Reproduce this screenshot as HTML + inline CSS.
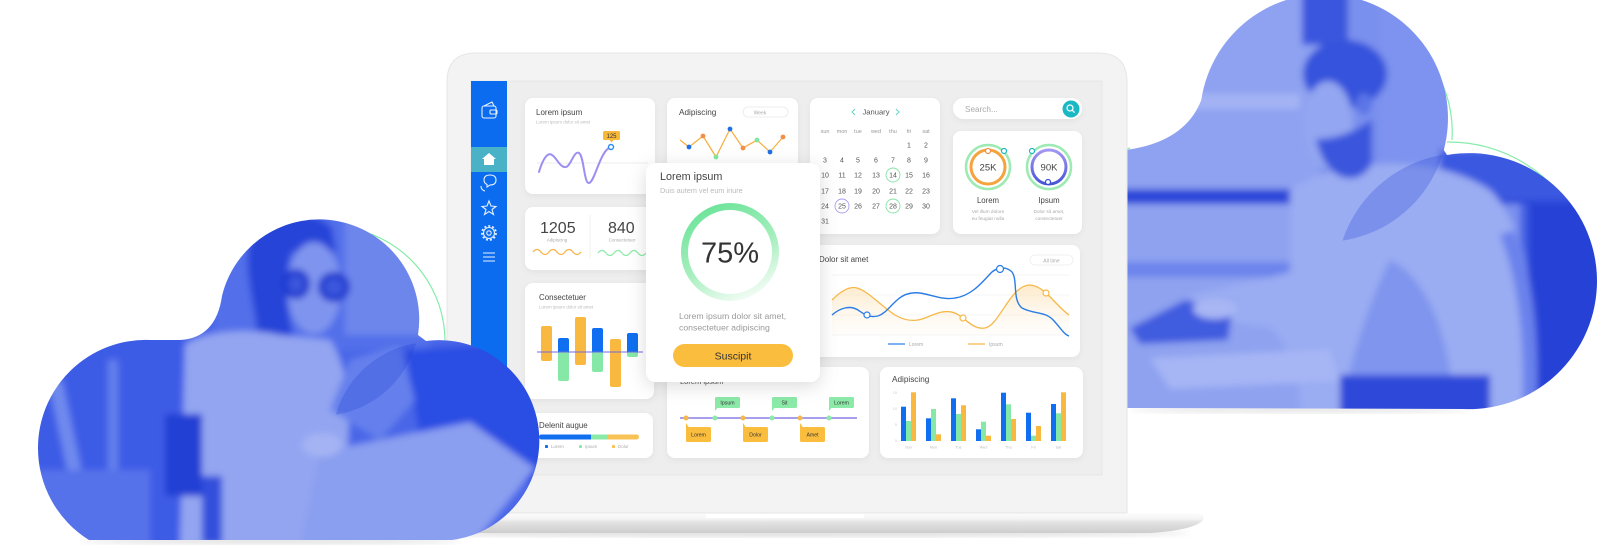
<!DOCTYPE html>
<html><head><meta charset="utf-8"><style>
html,body{margin:0;padding:0;background:#fff;width:1622px;height:548px;overflow:hidden}
svg{display:block}
text{font-family:"Liberation Sans",sans-serif}
</style></head><body>
<svg width="1622" height="548" viewBox="0 0 1622 548" xmlns="http://www.w3.org/2000/svg">
<defs>
<filter id="sh" x="-20%" y="-20%" width="140%" height="150%"><feDropShadow dx="0" dy="2" stdDeviation="3" flood-color="#000" flood-opacity="0.05"/></filter>
<filter id="psh" x="-30%" y="-20%" width="160%" height="150%"><feDropShadow dx="0" dy="4" stdDeviation="9" flood-color="#000" flood-opacity="0.14"/></filter>
<filter id="bl" x="-10%" y="-10%" width="120%" height="120%"><feGaussianBlur stdDeviation="3.5"/></filter>
<filter id="bl2"><feGaussianBlur stdDeviation="3"/></filter>
<clipPath id="lc"><path d="M38 448 A108 108 0 0 1 150 340 L180 340 Q216 338 222 296 A100 100 0 0 1 418 335 L426 341 A100 100 0 0 1 452 540 L89 540 A108 108 0 0 1 38 448 Z"/></clipPath>
<clipPath id="lc1"><circle cx="320" cy="316" r="100"/></clipPath>
<clipPath id="rc"><path d="M1126 408 L1126 150 Q1185 142 1201.3 100 A124 124 0 1 1 1443.8 150 L1447 155 A128 128 0 1 1 1464 409 L1126 408 Z"/></clipPath>
<clipPath id="rc1"><circle cx="1324" cy="118" r="124"/></clipPath>
<linearGradient id="base" x1="0" y1="0" x2="0" y2="1">
<stop offset="0" stop-color="#fdfdfd"/><stop offset="0.3" stop-color="#f4f4f4"/><stop offset="0.45" stop-color="#e3e3e3"/><stop offset="1" stop-color="#cdcdcd"/></linearGradient>
<linearGradient id="ring" x1="0.3" y1="0" x2="0.75" y2="1">
<stop offset="0" stop-color="#6fe49b"/><stop offset="0.55" stop-color="#a8efbf"/><stop offset="1" stop-color="#f4fcf6"/></linearGradient>
<linearGradient id="ofill" x1="0" y1="0" x2="0" y2="1">
<stop offset="0" stop-color="#fcd9a0" stop-opacity="0.55"/><stop offset="1" stop-color="#fdf0dc" stop-opacity="0.1"/></linearGradient>
<linearGradient id="pur" x1="0" y1="0" x2="0" y2="1">
<stop offset="0" stop-color="#a497f2"/><stop offset="1" stop-color="#4656d6"/></linearGradient>
</defs>

<!-- RIGHT CLOUD green arcs -->
<path d="M1405 35 A124 124 0 0 1 1452 140" fill="none" stroke="#86ecaa" stroke-width="1.2"/>
<path d="M1447 142 A145 145 0 0 1 1580 225" fill="none" stroke="#86ecaa" stroke-width="1.2"/>
<path d="M1118 156 Q1123 150 1130 148" fill="none" stroke="#86ecaa" stroke-width="1.2"/>
<ellipse cx="1300" cy="410" rx="170" ry="3" fill="#000" opacity="0.1" filter="url(#bl2)"/>
<!-- RIGHT CLOUD -->
<g clip-path="url(#rc)">
 <g filter="url(#bl)">
  <rect x="1100" y="-10" width="520" height="430" fill="#7a90ee"/>
  <rect x="1110" y="-10" width="210" height="200" fill="#8ea2f1"/>
  <rect x="1190" y="94" width="110" height="15" fill="#a4b3f4"/>
  <rect x="1302" y="-10" width="46" height="55" fill="#3a57de"/>
  <rect x="1380" y="-10" width="100" height="200" fill="#7d93ef"/>
  <rect x="1520" y="-10" width="100" height="430" fill="#4462e4"/>
  <rect x="1528" y="200" width="92" height="220" fill="#2543d6"/>
  <rect x="1110" y="189" width="510" height="15" fill="#2b47d9"/>
  <rect x="1440" y="150" width="180" height="50" fill="#3a58e0"/>
  <rect x="1110" y="204" width="240" height="210" fill="#8ea2f0"/>
  <rect x="1110" y="262" width="240" height="15" fill="#6c84ec"/>
  <path d="M1290 190 C1330 160 1430 150 1490 190 C1525 225 1540 300 1535 415 L1300 415 C1300 375 1290 345 1270 328 L1200 318 L1190 295 C1230 285 1260 280 1290 272 Z" fill="#9aacf2"/>
  <path d="M1390 260 C1430 280 1450 340 1455 415 L1340 415 C1350 360 1370 300 1390 260 Z" fill="#7f95ee"/>
  <path d="M1500 235 C1518 280 1526 340 1522 415 L1536 415 C1540 330 1532 275 1514 230 Z" fill="#6a82ec"/>
  <ellipse cx="1345" cy="74" rx="42" ry="34" fill="#3552dc"/>
  <ellipse cx="1328" cy="125" rx="25" ry="44" fill="#93a6f1"/>
  <ellipse cx="1364" cy="104" rx="8" ry="11" fill="#5a74e6"/>
  <path d="M1316 139 C1326 184 1360 188 1372 163 L1372 119 C1358 130 1338 139 1316 139 Z" fill="#3a56dd"/>
  <polygon points="1130,328 1185,300 1232,311 1228,340 1140,344" fill="#3f5bdf"/>
  <ellipse cx="1215" cy="309" rx="22" ry="10" fill="#a8b6f4"/>
  <polygon points="1150,358 1330,349 1340,381 1170,389" fill="#a6b5f4"/>
  <rect x="1340" y="375" width="150" height="42" fill="#2e4ad9"/>
 </g>
 <circle cx="1464" cy="281" r="128" fill="#1c3ad2" opacity="0.25" clip-path="url(#rc1)"/>
</g>

<!-- LAPTOP BASE -->
<ellipse cx="790" cy="533" rx="400" ry="4" fill="#000" opacity="0.12" filter="url(#bl2)"/>
<path d="M380 513 L1195 513 Q1206 514 1203 520 Q1195 530 1150 533 L430 533 Q385 530 378 520 Q376 514 380 513 Z" fill="url(#base)"/>
<rect x="706" y="513" width="158" height="5" fill="#ffffff"/>
<!-- LAPTOP FRAME -->
<path d="M447 513 L447 82 Q447 53 476 53 L1098 53 Q1127 53 1127 82 L1127 513 Z" fill="#f3f3f3" stroke="#e6e6e6" stroke-width="1"/>
<rect x="471" y="81" width="631" height="394" fill="#eeeeee" stroke="#e4e4e4" stroke-width="0.8"/>
<!-- SIDEBAR -->
<rect x="471" y="81" width="36" height="394" fill="#0c6cf0"/>
<rect x="471" y="147" width="36" height="25" fill="#4ab2c6"/>
<g fill="none" stroke="#fff" stroke-width="1.1" opacity="0.9">
 <rect x="482" y="106" width="14" height="12" rx="2"/>
 <rect x="490" y="110" width="7" height="4" rx="1"/>
 <path d="M484 106 L492 102 L494 106"/>
 <path d="M484 180 q0-5 6-5 q6 0 6 5 q0 5-6 5 l-3 2 l0-2.5 q-3-1.5-3-4.5z"/>
 <path d="M481 186 q0 4 4 5"/>
 <polygon points="489,201 491,206 496,206.5 492,209.5 493.5,214.5 489,211.5 484.5,214.5 486,209.5 482,206.5 487,206"/>
 <circle cx="489" cy="233" r="5.5"/>
 <circle cx="489" cy="233" r="2.2"/>
 <circle cx="489" cy="233" r="7" stroke-dasharray="2 2" stroke-width="1.8"/>
 <path d="M483 253 h12 M483 257 h12 M483 261 h12"/>
</g>
<polygon points="482,159 489,153 496,159 494,159 494,165 484,165 484,159" fill="#fff"/>

<!-- CARDS -->
<g fill="#fff" filter="url(#sh)">
 <rect x="525" y="98" width="130" height="96" rx="8"/>
 <rect x="667" y="98" width="131" height="96" rx="8"/>
 <rect x="810" y="98" width="130" height="136" rx="8"/>
 <rect x="953" y="98" width="129" height="21" rx="10.5"/>
 <rect x="953" y="131" width="129" height="103" rx="8"/>
 <rect x="525" y="207" width="130" height="63" rx="8"/>
 <rect x="525" y="283" width="129" height="116" rx="8"/>
 <rect x="525" y="413" width="128" height="45" rx="8"/>
 <rect x="810" y="245" width="270" height="112" rx="8"/>
 <rect x="667" y="367" width="202" height="91" rx="8"/>
 <rect x="880" y="367" width="203" height="91" rx="8"/>
</g>

<!-- Card 1 -->
<text x="536" y="115" font-size="8" fill="#444">Lorem ipsum</text>
<text x="536" y="123.5" font-size="4.5" fill="#bbb">Lorem ipsum dolor sit amet</text>
<line x1="537" y1="163" x2="648" y2="163" stroke="#e6e6e6" stroke-width="0.8"/>
<path d="M539 172 C543 158 548 152 552 155 C557 158 560 168 566 167 C571 166 574 150 579 153 C584 156 584 184 589 183 C595 182 600 150 611 147" fill="none" stroke="#9c8ff2" stroke-width="2" stroke-linecap="round"/>
<circle cx="611" cy="147" r="2.5" fill="#fff" stroke="#2d8cf0" stroke-width="1.4"/>
<rect x="603" y="131" width="17" height="9" rx="1.5" fill="#f8b93a"/>
<polygon points="609.5,140 613.5,140 611.5,142.5" fill="#f8b93a"/>
<text x="611.5" y="138" font-size="6" fill="#333" text-anchor="middle">125</text>

<!-- Card 2 -->
<text x="679" y="115" font-size="8.2" fill="#444">Adipiscing</text>
<rect x="743" y="107" width="45" height="10" rx="5" fill="#fff" stroke="#e8e8e8" stroke-width="0.8"/>
<text x="760" y="114.3" font-size="5" fill="#aaa" text-anchor="middle">Week</text>
<polyline points="680,140 689,147 703,136 716,157 730,129 743,148 757,140 770,152 783,137" fill="none" stroke="#f6b247" stroke-width="1.3"/>
<g>
 <circle cx="689" cy="147" r="2.4" fill="#1f6fe8"/><circle cx="730" cy="129" r="2.4" fill="#1f6fe8"/><circle cx="770" cy="152" r="2.4" fill="#1f6fe8"/>
 <circle cx="703" cy="136" r="2.4" fill="#f08e4a"/><circle cx="743" cy="148" r="2.4" fill="#f08e4a"/><circle cx="783" cy="137" r="2.4" fill="#f08e4a"/>
 <circle cx="716" cy="157" r="2.4" fill="#7ee8a0"/><circle cx="757" cy="140" r="2.4" fill="#7ee8a0"/>
</g>

<!-- Calendar -->
<text x="876" y="114.5" font-size="7.6" fill="#555" text-anchor="middle">January</text>
<polyline points="855,109 852,112 855,115" fill="none" stroke="#5fd0c5" stroke-width="0.9"/>
<polyline points="896,109 899,112 896,115" fill="none" stroke="#5fd0c5" stroke-width="0.9"/>
<g font-size="5.5" fill="#999" text-anchor="middle">
 <text x="825" y="133">sun</text><text x="842" y="133">mon</text><text x="858" y="133">tue</text><text x="876" y="133">wed</text><text x="893" y="133">thu</text><text x="909" y="133">fri</text><text x="926" y="133">sat</text>
</g>
<circle cx="893" cy="175" r="7" fill="none" stroke="#86e3a4" stroke-width="0.9"/>
<circle cx="842" cy="206" r="7" fill="none" stroke="#a99ff0" stroke-width="0.9"/>
<circle cx="893" cy="206" r="7" fill="none" stroke="#86e3a4" stroke-width="0.9"/>
<g font-size="7" fill="#555" text-anchor="middle">
 <text x="909" y="147.5">1</text><text x="926" y="147.5">2</text>
 <text x="825" y="162.5">3</text><text x="842" y="162.5">4</text><text x="858" y="162.5">5</text><text x="876" y="162.5">6</text><text x="893" y="162.5">7</text><text x="909" y="162.5">8</text><text x="926" y="162.5">9</text>
 <text x="825" y="177.5">10</text><text x="842" y="177.5">11</text><text x="858" y="177.5">12</text><text x="876" y="177.5">13</text><text x="893" y="177.5">14</text><text x="909" y="177.5">15</text><text x="926" y="177.5">16</text>
 <text x="825" y="193.5">17</text><text x="842" y="193.5">18</text><text x="858" y="193.5">19</text><text x="876" y="193.5">20</text><text x="893" y="193.5">21</text><text x="909" y="193.5">22</text><text x="926" y="193.5">23</text>
 <text x="825" y="208.5">24</text><text x="842" y="208.5">25</text><text x="858" y="208.5">26</text><text x="876" y="208.5">27</text><text x="893" y="208.5">28</text><text x="909" y="208.5">29</text><text x="926" y="208.5">30</text>
 <text x="825" y="223.5">31</text>
</g>

<!-- Search -->
<text x="965" y="112" font-size="8.2" fill="#aaa">Search...</text>
<circle cx="1071" cy="109" r="8.5" fill="#1ab8c4"/>
<circle cx="1070" cy="108" r="3" fill="none" stroke="#fff" stroke-width="1.2"/>
<line x1="1072.2" y1="110.2" x2="1074.6" y2="112.6" stroke="#fff" stroke-width="1.2"/>

<!-- Rings -->
<circle cx="988" cy="167" r="22" fill="none" stroke="#9deab3" stroke-width="2.5"/>
<circle cx="988" cy="167" r="17" fill="none" stroke="#f5a33c" stroke-width="3"/>
<circle cx="988" cy="151" r="2.5" fill="#fff" stroke="#f08e4a" stroke-width="1.2"/>
<circle cx="1004" cy="151" r="2.5" fill="#fff" stroke="#1fb5c5" stroke-width="1.2"/>
<text x="988" y="170.5" font-size="9.5" fill="#444" text-anchor="middle">25K</text>
<circle cx="1049" cy="167" r="22" fill="none" stroke="#9deab3" stroke-width="2.5"/>
<circle cx="1049" cy="167" r="17" fill="none" stroke="url(#pur)" stroke-width="3"/>
<circle cx="1032" cy="151" r="2.5" fill="#fff" stroke="#1fb5c5" stroke-width="1.2"/>
<circle cx="1048" cy="182" r="2.5" fill="#fff" stroke="#3c4fd6" stroke-width="1.2"/>
<text x="1049" y="170.5" font-size="9.5" fill="#444" text-anchor="middle">90K</text>
<text x="988" y="203" font-size="7.8" fill="#444" text-anchor="middle">Lorem</text>
<text x="1049" y="203" font-size="7.8" fill="#444" text-anchor="middle">Ipsum</text>
<g font-size="4.8" fill="#aaa" text-anchor="middle">
 <text x="988" y="213">Vel illum dolore</text><text x="988" y="220">eu feugiat nulla</text>
 <text x="1049" y="213">Dolor sit amet,</text><text x="1049" y="220">consectetuer</text>
</g>

<!-- 1205 card -->
<text x="540" y="233" font-size="16" fill="#444">1205</text>
<text x="557" y="241.5" font-size="4.5" fill="#aaa" text-anchor="middle">Adipiscing</text>
<text x="608" y="233" font-size="16" fill="#444">840</text>
<text x="622" y="241.5" font-size="4.5" fill="#aaa" text-anchor="middle">Consectetuer</text>
<line x1="590" y1="215" x2="590" y2="258" stroke="#eee" stroke-width="0.8"/>
<path d="M533 252 q4 -5 8 0 t8 0 t8 0 t8 0 t8 0 t8 0" fill="none" stroke="#f7b547" stroke-width="1.3"/>
<path d="M598 253 q4 -5 8 0 t8 0 t8 0 t8 0 t8 0 t8 0" fill="none" stroke="#8eeaa9" stroke-width="1.3"/>

<!-- Consectetuer -->
<text x="539" y="300" font-size="7.9" fill="#444">Consectetuer</text>
<text x="539" y="308.5" font-size="4.5" fill="#bbb">Lorem ipsum dolor sit amet</text>
<g>
 <rect x="541" y="326" width="11" height="35" rx="2" fill="#f9b840"/>
 <rect x="558" y="338" width="11" height="16" rx="2" fill="#0f6ff0"/>
 <rect x="558" y="352" width="11" height="29" rx="2" fill="#86e8a6"/>
 <rect x="575" y="317" width="11" height="48" rx="2" fill="#f9b840"/>
 <rect x="592" y="328" width="11" height="26" rx="2" fill="#0f6ff0"/>
 <rect x="592" y="352" width="11" height="20" rx="2" fill="#86e8a6"/>
 <rect x="610" y="339" width="11" height="48" rx="2" fill="#f9b840"/>
 <rect x="627" y="333" width="11" height="21" rx="2" fill="#0f6ff0"/>
 <rect x="627" y="352" width="11" height="5" rx="2" fill="#86e8a6"/>
</g>
<line x1="537" y1="352" x2="643" y2="352" stroke="#6f6ae0" stroke-width="1.1"/>

<!-- Delenit -->
<text x="539" y="428" font-size="7.9" fill="#444">Delenit augue</text>
<rect x="539" y="434.5" width="100" height="5" rx="2.5" fill="#f9c255"/>
<path d="M541.5 434.5 H608 V439.5 H541.5 A2.5 2.5 0 0 1 541.5 434.5 Z" fill="#8ceaa8"/>
<path d="M541.5 434.5 H591 V439.5 H541.5 A2.5 2.5 0 0 1 541.5 434.5 Z" fill="#1170f0"/>
<rect x="545" y="445" width="3" height="3" rx="0.8" fill="#1170f0"/><text x="551" y="448" font-size="4.5" fill="#aaa">Lorem</text>
<rect x="579" y="445" width="3" height="3" rx="0.8" fill="#8ceaa8"/><text x="585" y="448" font-size="4.5" fill="#aaa">Ipsum</text>
<rect x="612" y="445" width="3" height="3" rx="0.8" fill="#f9c255"/><text x="618" y="448" font-size="4.5" fill="#aaa">Dolor</text>

<!-- Dolor sit amet -->
<text x="819" y="262" font-size="8" fill="#444">Dolor sit amet</text>
<rect x="1030" y="255" width="43" height="10" rx="5" fill="#fff" stroke="#eee" stroke-width="0.8"/>
<text x="1051.5" y="262.3" font-size="5" fill="#aaa" text-anchor="middle">All time</text>
<g stroke="#f0f0f0" stroke-width="0.7">
 <line x1="832" y1="275" x2="1070" y2="275"/><line x1="832" y1="295" x2="1070" y2="295"/><line x1="832" y1="315" x2="1070" y2="315"/><line x1="832" y1="335" x2="1070" y2="335"/>
</g>
<path d="M832 300 C842 290 850 286 857 288 C868 291 880 305 895 315 C905 321 915 322 925 318 C935 314 945 309 955 313 C965 317 972 330 985 328 C1000 325 1010 285 1030 285 C1045 286 1055 305 1069 315 L1069 335 L832 335 Z" fill="url(#ofill)"/>
<path d="M832 300 C842 290 850 286 857 288 C868 291 880 305 895 315 C905 321 915 322 925 318 C935 314 945 309 955 313 C965 317 972 330 985 328 C1000 325 1010 285 1030 285 C1045 286 1055 305 1069 315" fill="none" stroke="#f6b849" stroke-width="1.3"/>
<path d="M832 315 C840 308 850 305 858 310 C864 314 868 318 878 316 C890 312 895 295 912 293 C925 291 940 301 955 298 C970 296 980 285 990 274 C995 268 1005 265 1012 272 C1018 280 1012 300 1022 308 C1035 315 1045 310 1055 322 C1062 330 1065 335 1069 336" fill="none" stroke="#2a7de6" stroke-width="1.4"/>
<circle cx="867" cy="315" r="3" fill="#fff" stroke="#2a7de6" stroke-width="1.2"/>
<circle cx="1000" cy="269" r="3.5" fill="#fff" stroke="#2a7de6" stroke-width="1.2"/>
<circle cx="963" cy="318" r="3" fill="#fff" stroke="#f6b849" stroke-width="1.2"/>
<circle cx="1046" cy="293" r="3" fill="#fff" stroke="#f6b849" stroke-width="1.2"/>
<line x1="888" y1="344" x2="905" y2="344" stroke="#2f80e6" stroke-width="1.3"/>
<text x="909" y="346" font-size="5" fill="#aaa">Lorem</text>
<line x1="968" y1="344" x2="985" y2="344" stroke="#f6b849" stroke-width="1.3"/>
<text x="989" y="346" font-size="5" fill="#aaa">Ipsum</text>

<!-- Timeline -->
<text x="680" y="384" font-size="7.5" fill="#555">Lorem ipsum</text>
<line x1="680" y1="418" x2="857" y2="418" stroke="#8a7fe8" stroke-width="1.4"/>
<g fill="#f7b84a"><circle cx="686" cy="418" r="2.5"/><circle cx="743" cy="418" r="2.5"/><circle cx="800" cy="418" r="2.5"/></g>
<g fill="#8ceaa8"><circle cx="715" cy="418" r="2.5"/><circle cx="772" cy="418" r="2.5"/><circle cx="829" cy="418" r="2.5"/></g>
<g fill="#8ceaa8">
 <rect x="715" y="397" width="25" height="11" rx="1.5"/><polygon points="715,406 719,406 715,411"/>
 <rect x="772" y="397" width="25" height="11" rx="1.5"/><polygon points="772,406 776,406 772,411"/>
 <rect x="829" y="397" width="25" height="11" rx="1.5"/><polygon points="829,406 833,406 829,411"/>
</g>
<g fill="#fbbd3e">
 <rect x="686" y="427" width="25" height="15" rx="1.5"/><polygon points="686,423 690,429 686,429"/>
 <rect x="743" y="427" width="25" height="15" rx="1.5"/><polygon points="743,423 747,429 743,429"/>
 <rect x="800" y="427" width="25" height="15" rx="1.5"/><polygon points="800,423 804,429 800,429"/>
</g>
<g font-size="5.2" fill="#333" text-anchor="middle">
 <text x="727.5" y="404.5">Ipsum</text><text x="784.5" y="404.5">Sit</text><text x="841.5" y="404.5">Lorem</text>
 <text x="698.5" y="436.5">Lorem</text><text x="755.5" y="436.5">Dolor</text><text x="812.5" y="436.5">Amet</text>
</g>

<!-- Adipiscing bottom -->
<text x="892" y="382" font-size="8.2" fill="#444">Adipiscing</text>
<g font-size="3.8" fill="#ccc" text-anchor="end">
 <text x="897" y="394">15</text><text x="897" y="410">10</text><text x="897" y="426">5</text><text x="897" y="442">0</text>
</g>
<g>
 <rect x="901" y="406.7" width="5" height="34.3" fill="#0f6ff0"/><rect x="906" y="421" width="5" height="20" fill="#86e8a6"/><rect x="911" y="392.3" width="5" height="48.7" fill="#f9b840"/>
 <rect x="926" y="418.3" width="5" height="22.7" fill="#0f6ff0"/><rect x="931" y="409" width="5" height="32" fill="#86e8a6"/><rect x="936" y="434.3" width="5" height="6.7" fill="#f9b840"/>
 <rect x="951" y="398.3" width="5" height="42.7" fill="#0f6ff0"/><rect x="956" y="414" width="5" height="27" fill="#86e8a6"/><rect x="961" y="405.3" width="5" height="35.7" fill="#f9b840"/>
 <rect x="976" y="429.3" width="5" height="11.7" fill="#0f6ff0"/><rect x="981" y="421.7" width="5" height="19.3" fill="#86e8a6"/><rect x="986" y="435.7" width="5" height="5.3" fill="#f9b840"/>
 <rect x="1001" y="392.7" width="5" height="48.3" fill="#0f6ff0"/><rect x="1006" y="404.3" width="5" height="36.7" fill="#86e8a6"/><rect x="1011" y="419" width="5" height="22" fill="#f9b840"/>
 <rect x="1026" y="412.7" width="5" height="28.3" fill="#0f6ff0"/><rect x="1031" y="435.7" width="5" height="5.3" fill="#86e8a6"/><rect x="1036" y="426" width="5" height="15" fill="#f9b840"/>
 <rect x="1051" y="404" width="5" height="37" fill="#0f6ff0"/><rect x="1056" y="413.3" width="5" height="27.7" fill="#86e8a6"/><rect x="1061" y="392.3" width="5" height="48.7" fill="#f9b840"/>
</g>
<g font-size="3.8" fill="#bbb" text-anchor="middle">
 <text x="908.5" y="448.5">Sun</text><text x="933.5" y="448.5">Mon</text><text x="958.5" y="448.5">Tue</text><text x="983.5" y="448.5">Wed</text><text x="1008.5" y="448.5">Thu</text><text x="1033.5" y="448.5">Fri</text><text x="1058.5" y="448.5">Sat</text>
</g>

<!-- POPUP -->
<rect x="646" y="163" width="174" height="219" rx="10" fill="#fff" filter="url(#psh)"/>
<text x="660" y="180" font-size="10.8" fill="#444">Lorem ipsum</text>
<text x="660" y="193" font-size="7.3" fill="#bbb">Duis autem vel eum iriure</text>
<circle cx="730" cy="252" r="45.5" fill="none" stroke="url(#ring)" stroke-width="7"/>
<text x="730" y="262.5" font-size="29" fill="#333" text-anchor="middle">75%</text>
<text x="679" y="319" font-size="8.7" fill="#9a9a9a">Lorem ipsum dolor sit amet,</text>
<text x="679" y="330.5" font-size="8.7" fill="#9a9a9a">consectetuer adipiscing</text>
<rect x="673" y="344" width="120" height="23" rx="11.5" fill="#fbbd3e"/>
<text x="733" y="359.5" font-size="10.5" fill="#333" text-anchor="middle">Suscipit</text>

<!-- LEFT CLOUD green arcs -->
<path d="M365 232 A115 115 0 0 1 445 340" fill="none" stroke="#86ecaa" stroke-width="1.2"/>
<path d="M470 370 A85 85 0 0 1 445 536" fill="none" stroke="#86ecaa" stroke-width="1.2"/>
<ellipse cx="270" cy="541" rx="190" ry="3" fill="#000" opacity="0.12" filter="url(#bl2)"/>
<!-- LEFT CLOUD -->
<g clip-path="url(#lc)">
 <g filter="url(#bl)">
  <rect x="20" y="200" width="530" height="350" fill="#4866e8"/>
  <rect x="215" y="205" width="215" height="145" fill="#5270ea"/>
  <rect x="345" y="215" width="80" height="120" fill="#6d86ec"/>
  <rect x="20" y="330" width="165" height="220" fill="#3c5ce6"/>
  <rect x="62" y="380" width="14" height="130" fill="#6f8aee" transform="rotate(-12 69 445)"/>
  <rect x="108" y="360" width="10" height="120" fill="#6580ec"/>
  <rect x="30" y="470" width="120" height="75" fill="#5672ea"/>
  <path d="M250 240 C262 212 312 205 332 228 L336 252 L292 252 C282 282 288 320 298 355 C304 392 292 420 280 428 C262 402 258 362 256 322 C251 292 244 265 250 240 Z" fill="#2644d8"/>
  <ellipse cx="314" cy="288" rx="27" ry="46" fill="#7f94ee"/>
  <ellipse cx="296" cy="284" rx="14" ry="15" fill="#1e38cf"/>
  <ellipse cx="334" cy="287" rx="16" ry="15" fill="#1e38cf"/>
  <ellipse cx="296" cy="284" rx="8" ry="9" fill="#3a56dc"/>
  <ellipse cx="334" cy="287" rx="10" ry="9" fill="#3a56dc"/>
  <path d="M185 345 C205 330 250 328 280 335 L330 340 C350 370 352 420 345 470 L340 548 L180 548 Z" fill="#93a5f1"/>
  <polygon points="405,350 545,340 545,485 425,470" fill="#2b4ee3"/>
  <polygon points="330,410 350,360 400,345 415,400 380,440" fill="#6580ec"/>
  <polygon points="320,452 470,422 535,468 470,548 300,548" fill="#8a9ff0"/>
  <rect x="165" y="414" width="37" height="82" fill="#2341d4"/>
  <rect x="202" y="476" width="20" height="68" fill="#3050dc"/>
  <ellipse cx="322" cy="445" rx="20" ry="12" fill="#a4b3f3"/>
 </g>
 <circle cx="432" cy="442" r="100" fill="#1c3ad2" opacity="0.25" clip-path="url(#lc1)"/>
</g>
</svg>
</body></html>
